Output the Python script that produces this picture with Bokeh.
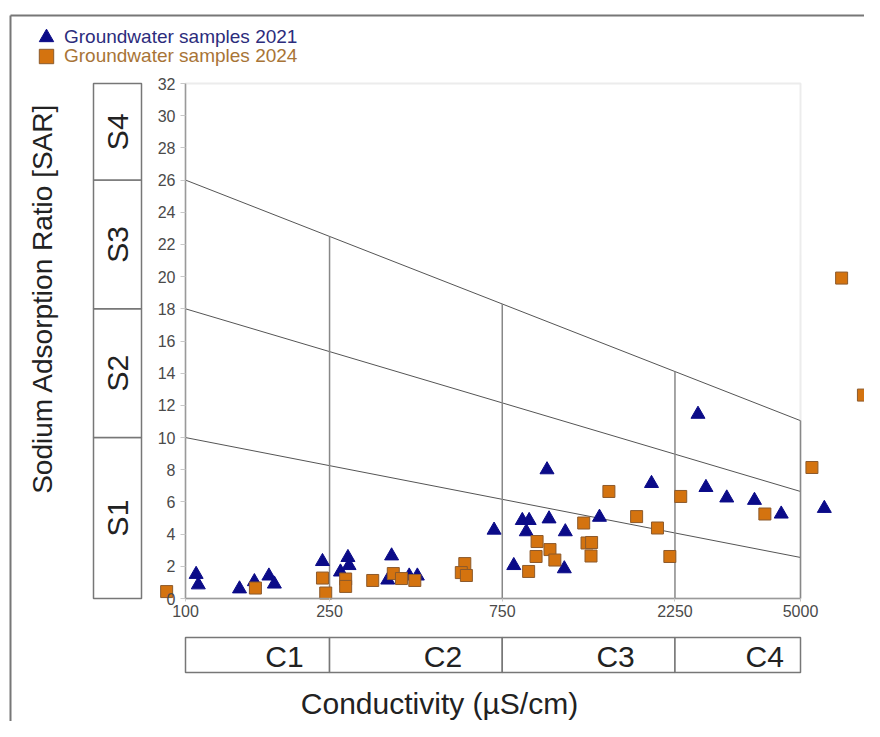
import math
from bokeh.plotting import figure
from bokeh.models import (Range1d, LogAxis, LinearAxis, FixedTicker, NumeralTickFormatter,
                          Legend, LegendItem)
from bokeh.core.properties import value
from bokeh.embed import file_html
from bokeh.resources import INLINE

# ---------------- data ----------------
ec_2021 = [107, 108.5, 141, 155, 170, 176, 239, 268, 281, 283, 371, 362, 415, 437,
           712, 807, 852, 890, 874, 997, 1010, 1120, 1113, 1392, 1938, 2605, 2740,
           3128, 3731, 4423, 5818]
sar_2021 = [1.5, 0.85, 0.6, 1.05, 1.4, 0.9, 2.3, 1.65, 2.55, 2.05, 2.65, 1.15, 1.4, 1.4,
            4.25, 2.05, 4.85, 4.85, 4.15, 8.0, 4.95, 4.15, 1.85, 5.05, 7.15, 11.45, 6.9,
            6.25, 6.1, 5.25, 5.6]

ec_2024 = [88.7, 156, 239, 244, 277, 277, 329, 375, 395, 430, 591, 578, 597, 887, 930,
           936, 1016, 1048, 1259, 1286, 1324, 1319, 1478, 1763, 2013, 2178, 2334, 3986,
           5377, 6495, 7461]
sar_2024 = [0.43, 0.65, 1.27, 0.34, 1.21, 0.75, 1.12, 1.55, 1.24, 1.12, 2.17, 1.61, 1.43,
            1.68, 2.61, 3.54, 3.04, 2.39, 4.69, 3.45, 3.48, 2.64, 6.65, 5.09, 4.38, 2.61,
            6.34, 5.25, 8.14, 19.91, 12.64]

x_ticks = [100, 250, 750, 2250, 5000]
y_ticks = list(range(0, 33, 2))
c_bounds = [100, 250, 750, 2250, 5000]
c_labels = ["C1", "C2", "C3", "C4"]
s_bounds = [0, 10, 18, 26, 32]
s_labels = ["S1", "S2", "S3", "S4"]
# sodium-hazard boundary lines: SAR at EC = 100 and at EC = 5000
line_sar_lo = [10, 18, 26]
line_sar_hi = [2.55, 6.65, 11.05]

# ---------------- layout constants (pixels inside the figure) ----------------
W, H = 864, 721
AX_X0, AX_X1 = 185, 800      # pixel of EC=100 and EC=5000
AX_Y0, AX_Y1 = 598, 83       # pixel of SAR=0 and SAR=32
dec_px = (AX_X1 - AX_X0) / math.log10(5000 / 100)
ppu = (AX_Y0 - AX_Y1) / 32.0


def px2x(px):
    return 10 ** (2 + (px - AX_X0) / dec_px)


def py2y(py):
    return (AX_Y0 - py) / ppu


FONT = "Liberation Sans"
INK = "#222222"

p = figure(width=W, height=H, x_axis_type="log",
           x_range=Range1d(px2x(0), px2x(W)), y_range=Range1d(py2y(H), py2y(0)),
           x_axis_location=None, y_axis_location=None,
           output_backend="svg", toolbar_location=None, min_border=0)
p.outline_line_color = None
p.xgrid.visible = False
p.ygrid.visible = False
p.background_fill_color = "white"
p.border_fill_color = "white"

# outer frame (top and left edges)
p.segment(x0=[px2x(10), px2x(10)], y0=[py2y(15), py2y(15)],
          x1=[px2x(W), px2x(10)], y1=[py2y(15), py2y(H)],
          line_color="#777777", line_width=2)

# faint plot-area border
p.quad(left=[100], right=[5000], bottom=[0], top=[32], fill_color=None,
       line_color="#ececec", line_width=2)

# hazard lines
p.segment(x0=[100] * 3, y0=line_sar_lo, x1=[5000] * 3, y1=line_sar_hi,
          line_color="#555555", line_width=1)

# vertical salinity class lines up to the top hazard line
vx = c_bounds[1:]
vtop = [line_sar_lo[2] + (line_sar_hi[2] - line_sar_lo[2]) * math.log10(v / 100) / math.log10(50)
        for v in vx]
p.segment(x0=vx, y0=[0] * len(vx), x1=vx, y1=vtop, line_color="#888888", line_width=1.5)

# S class boxes (left)
p.quad(left=[px2x(93)] * 4, right=[px2x(141)] * 4, bottom=s_bounds[:-1], top=s_bounds[1:],
       fill_color="white", line_color="#777777", line_width=1.5)
p.text(x=[px2x(117)] * 4, y=[(a + b) / 2 for a, b in zip(s_bounds[:-1], s_bounds[1:])],
       text=s_labels, angle=math.pi / 2, text_align="center", text_baseline="middle",
       text_font=value(FONT), text_font_size="30px", text_color=INK)

# C class boxes (bottom)
p.quad(left=c_bounds[:-1], right=c_bounds[1:], bottom=[py2y(672)] * 4, top=[py2y(637)] * 4,
       fill_color="white", line_color="#777777", line_width=1.5)
p.text(x=[math.sqrt(a * b) for a, b in zip(c_bounds[:-1], c_bounds[1:])],
       y=[py2y(656)] * 4, text=c_labels, x_offset=27, text_align="center",
       text_baseline="middle", text_font=value(FONT), text_font_size="30px",
       text_color=INK)

# axis titles
p.text(x=[px2x(42)], y=[py2y(298)], text=["Sodium Adsorption Ratio [SAR]"], angle=math.pi / 2,
       text_align="center", text_baseline="middle", text_font=value(FONT),
       text_font_size="28px", text_color=INK)
p.text(x=[px2x(439)], y=[py2y(703)], text=["Conductivity (µS/cm)"],
       text_align="center", text_baseline="middle", text_font=value(FONT),
       text_font_size="30px", text_color=INK)

# axes at fixed locations
xaxis = LogAxis(ticker=FixedTicker(ticks=x_ticks), formatter=NumeralTickFormatter(format="0"),
                fixed_location=0, bounds=(100, 5000))
yaxis = LinearAxis(ticker=FixedTicker(ticks=y_ticks), fixed_location=100, bounds=(0, 32))
for ax in (xaxis, yaxis):
    ax.axis_line_color = "#9a9a9a"
    ax.axis_line_width = 1.5
    ax.major_tick_line_color = "#c8c8c8"
    ax.major_tick_in = 0
    ax.minor_tick_line_color = None
    ax.major_label_text_font = FONT
    ax.major_label_text_color = "#4a4a4a"
xaxis.major_label_text_font_size = "16px"
yaxis.major_label_text_font_size = "16px"
xaxis.major_tick_out = 3
xaxis.major_label_standoff = 3
yaxis.major_tick_out = 5
yaxis.major_label_standoff = 5
p.add_layout(xaxis, "below")
p.add_layout(yaxis, "left")

# data
r21 = p.scatter(ec_2021, sar_2021, marker="triangle", size=14, fill_color="#0b0b88",
                line_color="#0b0b88")
r24 = p.scatter(ec_2024, sar_2024, marker="square", size=12, fill_color="#d4730f",
                line_color="#8c5a2c", line_width=1)

# legends (one per item to allow per-item text colour)
for item_label, rend, col, loc in [("Groundwater samples 2021", r21, "#2c2c7c", (28, 666)),
                                   ("Groundwater samples 2024", r24, "#a87436", (28, 647))]:
    lg = Legend(items=[LegendItem(label=item_label, renderers=[rend])], location=loc,
                glyph_width=36, glyph_height=36, label_standoff=0, padding=0, margin=0,
                spacing=0, border_line_color=None, background_fill_alpha=0,
                label_text_font=FONT, label_text_font_size="19px", label_text_color=col)
    p.add_layout(lg)

open("out.html", "w").write(file_html(p, INLINE))
